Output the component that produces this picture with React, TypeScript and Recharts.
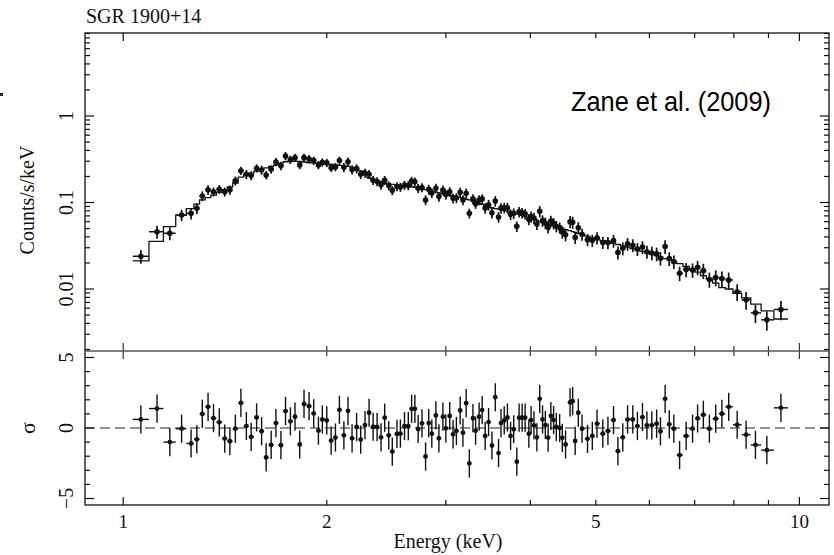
import React from "react";
import { ComposedChart, Scatter, Line, XAxis, YAxis, ErrorBar, ReferenceLine } from "recharts";

// bin centres (keV)
const energy = [
  1.062, 1.122, 1.172, 1.22, 1.26, 1.285, 1.309, 1.335, 1.36, 1.387,
  1.413, 1.438, 1.465, 1.493, 1.521, 1.546, 1.575, 1.602, 1.627, 1.655,
  1.682, 1.711, 1.738, 1.767, 1.795, 1.824, 1.851, 1.883, 1.913, 1.944,
  1.97, 2.0, 2.03, 2.06, 2.088, 2.12, 2.15, 2.18, 2.214, 2.245,
  2.278, 2.31, 2.342, 2.374, 2.406, 2.436, 2.47, 2.5, 2.54, 2.57,
  2.606, 2.64, 2.67, 2.7, 2.73, 2.766, 2.8, 2.83, 2.86, 2.9,
  2.93, 2.97, 3.0, 3.04, 3.075, 3.11, 3.15, 3.18, 3.215, 3.25,
  3.29, 3.32, 3.36, 3.395, 3.43, 3.47, 3.51, 3.55, 3.59, 3.62,
  3.66, 3.7, 3.74, 3.78, 3.82, 3.85, 3.89, 3.93, 3.98, 4.01,
  4.05, 4.09, 4.13, 4.17, 4.21, 4.25, 4.29, 4.33, 4.37, 4.42,
  4.46, 4.51, 4.58, 4.62, 4.66, 4.71, 4.77, 4.86, 4.94, 5.02,
  5.12, 5.21, 5.31, 5.39, 5.48, 5.57, 5.67, 5.76, 5.86, 5.95,
  6.05, 6.15, 6.23, 6.33, 6.42, 6.52, 6.65, 6.8, 6.95, 7.07,
  7.21, 7.36, 7.52, 7.68, 7.86, 8.09, 8.34, 8.61, 8.95, 9.39,
];

// counts/s/keV
const counts = [
  0.0239, 0.0459, 0.0441, 0.0717, 0.075, 0.0856, 0.119, 0.14, 0.133, 0.142,
  0.133, 0.14, 0.178, 0.233, 0.212, 0.205, 0.249, 0.238, 0.208, 0.242,
  0.294, 0.266, 0.345, 0.313, 0.33, 0.272, 0.33, 0.318, 0.305, 0.272,
  0.292, 0.288, 0.253, 0.258, 0.305, 0.255, 0.295, 0.24, 0.247, 0.212,
  0.219, 0.212, 0.181, 0.175, 0.16, 0.181, 0.157, 0.138, 0.153, 0.151,
  0.159, 0.157, 0.177, 0.174, 0.146, 0.149, 0.107, 0.142, 0.129, 0.146,
  0.117, 0.139, 0.124, 0.133, 0.112, 0.113, 0.131, 0.107, 0.128, 0.075,
  0.11, 0.097, 0.107, 0.11, 0.086, 0.094, 0.076, 0.104, 0.068, 0.086,
  0.087, 0.087, 0.073, 0.075, 0.053, 0.078, 0.076, 0.0738, 0.064, 0.0686,
  0.066, 0.0565, 0.079, 0.0617, 0.058, 0.0515, 0.061, 0.0574, 0.0532, 0.0512,
  0.0455, 0.0423, 0.06, 0.059, 0.0395, 0.051, 0.0429, 0.0372, 0.0365, 0.039,
  0.0345, 0.0344, 0.0362, 0.0265, 0.0295, 0.0333, 0.0321, 0.029, 0.0305, 0.027,
  0.0261, 0.0255, 0.0227, 0.031, 0.0225, 0.0207, 0.0152, 0.0168, 0.0166, 0.0178,
  0.0163, 0.0129, 0.0136, 0.0132, 0.0127, 0.0093, 0.0075, 0.0053, 0.0044, 0.0058,
];

// folded model, one value per bin
const model = [
  0.0212, 0.0355, 0.0527, 0.0714, 0.085, 0.096, 0.107, 0.114, 0.122, 0.131,
  0.141, 0.151, 0.168, 0.197, 0.208, 0.219, 0.231, 0.241, 0.251, 0.261,
  0.271, 0.286, 0.296, 0.3, 0.3, 0.298, 0.294, 0.29, 0.287, 0.284,
  0.281, 0.278, 0.275, 0.272, 0.268, 0.265, 0.262, 0.255, 0.245, 0.232,
  0.215, 0.192, 0.18, 0.174, 0.17, 0.167, 0.165, 0.162, 0.16, 0.158,
  0.156, 0.154, 0.152, 0.15, 0.147, 0.144, 0.141, 0.138, 0.135, 0.132,
  0.129, 0.126, 0.123, 0.121, 0.119, 0.116, 0.114, 0.112, 0.109, 0.107,
  0.103, 0.1, 0.097, 0.095, 0.092, 0.089, 0.087, 0.085, 0.084, 0.083,
  0.081, 0.08, 0.078, 0.076, 0.074, 0.073, 0.071, 0.069, 0.067, 0.065,
  0.064, 0.062, 0.06, 0.0586, 0.0573, 0.0561, 0.0549, 0.0538, 0.0527, 0.0514,
  0.0503, 0.0487, 0.0472, 0.0461, 0.0452, 0.044, 0.0427, 0.0409, 0.0391, 0.0375,
  0.0362, 0.0349, 0.0337, 0.0327, 0.0316, 0.0305, 0.0293, 0.0282, 0.0272, 0.0262,
  0.0252, 0.0243, 0.0235, 0.0224, 0.0216, 0.0207, 0.0196, 0.0182, 0.0168, 0.0157,
  0.0143, 0.013, 0.0117, 0.0104, 0.01, 0.0089, 0.0079, 0.0067, 0.0056, 0.0045,
];

// relative 1-sigma error of each bin
const relErr = [
  0.18, 0.17, 0.17, 0.15, 0.15, 0.14, 0.13, 0.13, 0.12, 0.12,
  0.12, 0.12, 0.12, 0.11, 0.12, 0.12, 0.11, 0.12, 0.11, 0.11,
  0.11, 0.11, 0.11, 0.11, 0.11, 0.11, 0.11, 0.11, 0.11, 0.11,
  0.11, 0.11, 0.11, 0.11, 0.11, 0.12, 0.12, 0.12, 0.12, 0.12,
  0.12, 0.12, 0.12, 0.12, 0.12, 0.12, 0.12, 0.12, 0.12, 0.12,
  0.12, 0.12, 0.12, 0.12, 0.12, 0.12, 0.13, 0.13, 0.13, 0.13,
  0.13, 0.13, 0.13, 0.13, 0.13, 0.13, 0.13, 0.13, 0.13, 0.13,
  0.13, 0.13, 0.13, 0.13, 0.14, 0.14, 0.14, 0.14, 0.14, 0.14,
  0.14, 0.14, 0.14, 0.14, 0.14, 0.14, 0.14, 0.14, 0.15, 0.15,
  0.15, 0.15, 0.15, 0.15, 0.15, 0.15, 0.15, 0.15, 0.15, 0.15,
  0.16, 0.16, 0.16, 0.16, 0.16, 0.16, 0.16, 0.16, 0.16, 0.16,
  0.16, 0.16, 0.17, 0.17, 0.17, 0.17, 0.17, 0.17, 0.17, 0.17,
  0.18, 0.18, 0.18, 0.18, 0.18, 0.18, 0.19, 0.19, 0.19, 0.19,
  0.2, 0.2, 0.21, 0.21, 0.22, 0.22, 0.23, 0.24, 0.25, 0.25,
];

// residuals in sigma
const sigma = [
  0.61, 1.38, -1.0, -0.05, -1.1, -0.8, 1.0, 1.5, 0.7, 0.4,
  -0.75, -0.94, -0.05, 1.78, 0.14, -0.63, 0.75, -0.23, -2.09, -1.2,
  0.35, -1.22, 1.2, 0.47, 0.8, -1.17, 1.71, 1.55, 1.03, -0.19,
  0.61, 0.54, -0.89, -0.68, 1.29, -0.52, 1.22, -0.73, 0.07, -0.82,
  0.21, 1.08, 0.09, 0.07, -0.66, 0.73, -0.52, -1.67, -0.42, -0.4,
  0.14, 0.14, 1.36, 1.36, -0.07, 0.33, -2.02, 0.35, -0.4, 0.89,
  -0.73, 0.8, -0.02, 0.85, -0.45, -0.21, 1.24, -0.33, 1.76, -2.51,
  0.7, -0.19, 0.8, 1.27, -0.56, 0.42, -1.24, 2.18, -1.78, 0.35,
  0.54, 0.75, -0.56, -0.09, -2.39, 0.73, 0.73, 0.73, -0.4, 0.56,
  0.19, -0.66, 2.07, 0.61, 0.21, -0.68, 0.85, 0.56, 0.07, 0,
  -0.7, -1.17, 1.81, 1.9, -0.92, 1.08, -0.05, -0.77, -0.56, 0.31,
  -0.4, -0.21, 0.56, -1.64, -0.66, 0.61, 0.61, 0.14, 0.77, 0.19,
  0.19, 0.31, -0.23, 2.07, 0.26, -0.05, -1.92, -0.56, -0.05, 0.68,
  0.94, -0.05, 0.66, 1.01, 1.5, 0.23, -0.47, -1.2, -1.57, 1.43,
];

const xTicks = [1, 2, 3, 4, 5, 6, 7, 8, 9, 10];
const xLabels: Record<string, string> = { "1": "1", "2": "2", "5": "5", "10": "10" };
const yTicks = [
  0.002, 0.003, 0.004, 0.005, 0.006, 0.007, 0.008, 0.009,
  0.01, 0.02, 0.03, 0.04, 0.05, 0.06, 0.07, 0.08, 0.09,
  0.1, 0.2, 0.3, 0.4, 0.5, 0.6, 0.7, 0.8, 0.9,
  1, 2, 3, 4, 5, 6, 7, 8, 9,
];
const yLabels: Record<string, string> = { "0.01": "0.01", "0.1": "0.1", "1": "1" };
const rTicks = [-5, -4, -3, -2, -1, 0, 1, 2, 3, 4, 5];
const rLabels: Record<string, string> = { "-5": "\u22125", "0": "0", "5": "5" };

const W = 834;
const H = 555;
const PLOT_W = 744;
const LOW_H = 154;
const INK = "#111";
const SERIF = "'Liberation Serif', 'Times New Roman', serif";

const n = energy.length;
const lo = energy.map((e, i) => (i === 0 ? e / Math.sqrt(energy[1] / e) : Math.sqrt(energy[i - 1] * e)));
const hi = energy.map((e, i) => (i === n - 1 ? e * Math.sqrt(e / energy[n - 2]) : Math.sqrt(e * energy[i + 1])));

const specData = energy.map((e, i) => ({ e, y: counts[i], ex: [e - lo[i], hi[i] - e], ey: counts[i] * relErr[i] }));
const modelData = [...energy.map((e, i) => ({ e: lo[i], y: model[i] })), { e: hi[n - 1], y: model[n - 1] }];
const residData = energy.map((e, i) => ({ e, r: sigma[i], ex: [e - lo[i], hi[i] - e], er: 1 }));

function TopTick(props: any) {
  const { x, y, payload } = props;
  const len = payload.value === 1 || payload.value === 10 ? 8 : 5;
  return <line x1={x} y1={y} x2={x} y2={y + len} stroke={INK} strokeWidth={1.2} />;
}

function BottomTick(props: any) {
  const { x, y, payload } = props;
  const len = payload.value === 1 || payload.value === 10 ? 8 : 5;
  const label = xLabels[String(payload.value)];
  const ys = y - LOW_H;
  return (
    <g>
      <line x1={x} y1={y} x2={x} y2={y - len} stroke={INK} strokeWidth={1.2} />
      <line x1={x} y1={ys - len} x2={x} y2={ys + len} stroke="#333" strokeWidth={1.2} />
      {label && (
        <text x={x} y={y + 23} textAnchor="middle" fontFamily={SERIF} fontSize={19} fill={INK}>
          {label}
        </text>
      )}
    </g>
  );
}

function sideTick(labels: Record<string, string>) {
  return (props: any) => {
    const { x, y, payload } = props;
    const label = labels[String(payload.value)];
    const len = label ? 9 : 5;
    const lx = x - 12;
    return (
      <g>
        <line x1={x} y1={y} x2={x + len} y2={y} stroke={INK} strokeWidth={1.2} />
        <line x1={x + PLOT_W} y1={y} x2={x + PLOT_W - len} y2={y} stroke={INK} strokeWidth={1.2} />
        {label && (
          <text x={lx} y={y} transform={`rotate(-90 ${lx} ${y})`} textAnchor="middle" fontFamily={SERIF} fontSize={20} fill={INK}>
            {label}
          </text>
        )}
      </g>
    );
  };
}

const Dot = (p: any) => <circle cx={p.cx} cy={p.cy} r={2.8} fill={INK} />;
const SmallDot = (p: any) => <circle cx={p.cx} cy={p.cy} r={2.4} fill={INK} />;

const layer: React.CSSProperties = { position: "absolute", left: 0, top: 0 };

export default function App() {
  return (
    <div style={{ position: "absolute", left: 0, top: 0, width: W, height: H, background: "#fff" }}>
      <div style={layer}>
        <ComposedChart width={W} height={H} data={modelData} margin={{ top: 32, right: 5, bottom: 204, left: 84 }}>
          <XAxis dataKey="e" type="number" scale="log" domain={[0.878, 11.06]} allowDataOverflow orientation="top"
            height={1} ticks={xTicks} interval={0} tickSize={0} tickMargin={0} axisLine={false} tickLine={false} tick={TopTick} />
          <YAxis dataKey="y" type="number" scale="log" domain={[0.00192, 9.11]} allowDataOverflow width={1}
            ticks={yTicks} interval={0} tickSize={0} tickMargin={0} axisLine={false} tickLine={false} tick={sideTick(yLabels)} />
          <Line dataKey="y" type="stepAfter" stroke={INK} strokeWidth={1.3} dot={false} isAnimationActive={false} />
          <Scatter data={specData} dataKey="y" shape={Dot} isAnimationActive={false}>
            <ErrorBar dataKey="ey" direction="y" width={0} stroke={INK} strokeWidth={1.7} isAnimationActive={false} />
            <ErrorBar dataKey="ex" direction="x" width={0} stroke={INK} strokeWidth={1.5} isAnimationActive={false} />
          </Scatter>
        </ComposedChart>
      </div>
      <div style={layer}>
        <ComposedChart width={W} height={H} data={residData} margin={{ top: 351, right: 5, bottom: 49, left: 84 }}>
          <XAxis dataKey="e" type="number" scale="log" domain={[0.878, 11.06]} allowDataOverflow orientation="bottom"
            height={1} ticks={xTicks} interval={0} tickSize={0} tickMargin={0} axisLine={false} tickLine={false} tick={BottomTick} />
          <YAxis dataKey="r" type="number" domain={[-5.46, 5.46]} allowDataOverflow width={1}
            ticks={rTicks} interval={0} tickSize={0} tickMargin={0} axisLine={false} tickLine={false} tick={sideTick(rLabels)} />
          <ReferenceLine y={0} stroke="#222" strokeWidth={1.2} strokeDasharray="10 5" />
          <Scatter dataKey="r" shape={SmallDot} isAnimationActive={false}>
            <ErrorBar dataKey="er" direction="y" width={0} stroke={INK} strokeWidth={1.4} isAnimationActive={false} />
            <ErrorBar dataKey="ex" direction="x" width={0} stroke={INK} strokeWidth={1.4} isAnimationActive={false} />
          </Scatter>
        </ComposedChart>
      </div>
      <svg width={W} height={H} style={{ ...layer, pointerEvents: "none" }}>
        <rect x={85} y={33} width={PLOT_W} height={472} fill="none" stroke={INK} strokeWidth={1.3} />
        <line x1={85} y1={351} x2={829} y2={351} stroke="#555" strokeWidth={1.6} />
        <rect x={0} y={93} width={3} height={3} fill="#222" />
        <text x={86} y={23} fontFamily={SERIF} fontSize={20} fill={INK}>SGR 1900+14</text>
        <text x={34} y={200} transform="rotate(-90 34 200)" textAnchor="middle" fontFamily={SERIF} fontSize={20} fill={INK}>
          Counts/s/keV
        </text>
        <text x={35} y={428} transform="rotate(-90 35 428)" textAnchor="middle" fontFamily={SERIF} fontSize={22} fill={INK}>
          σ
        </text>
        <text x={448} y={548} textAnchor="middle" fontFamily={SERIF} fontSize={20} fill={INK}>Energy (keV)</text>
        <text x={571} y={111} textLength={200} lengthAdjust="spacingAndGlyphs" fontFamily="'Liberation Sans', Arial, sans-serif" fontSize={28} fill="#000">
          Zane et al. (2009)
        </text>
      </svg>
    </div>
  );
}
